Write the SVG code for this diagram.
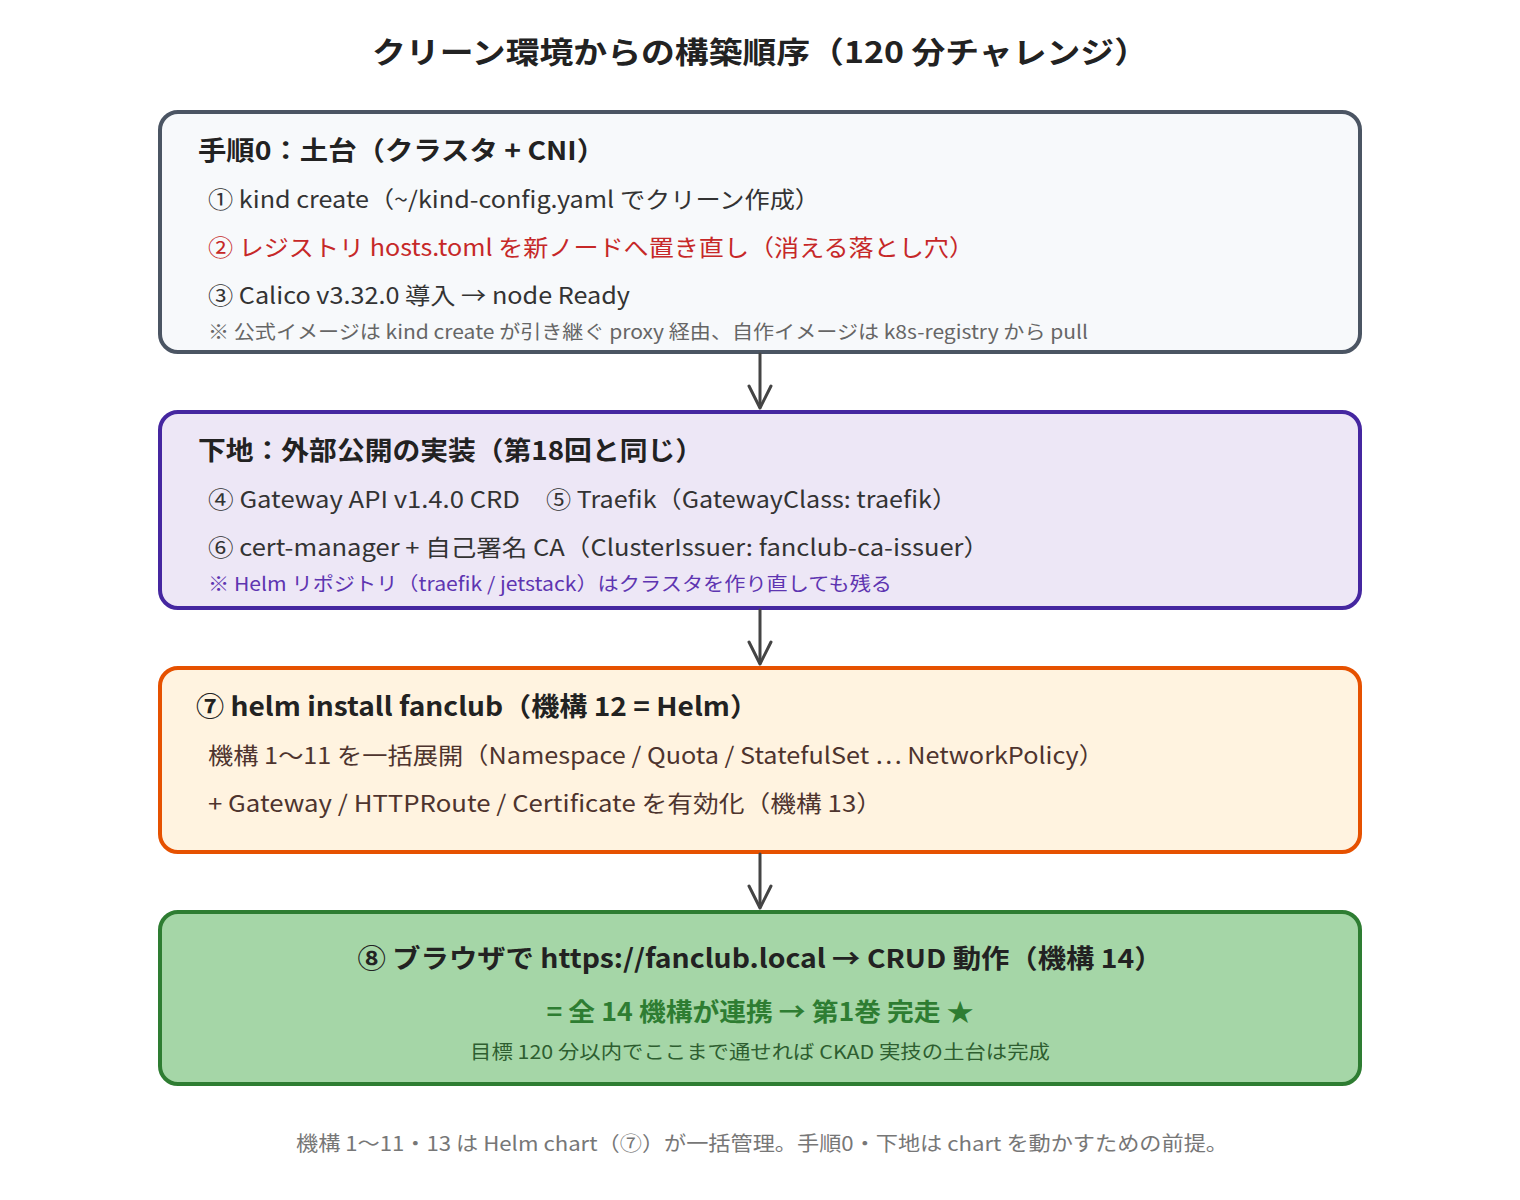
<svg xmlns="http://www.w3.org/2000/svg" width="1520" height="1200" viewBox="0 0 1520 1200">
<defs>
<style>
text{font-family:"Noto Sans CJK JP","Noto Sans",sans-serif;}
.title{font-size:30px;font-weight:700;fill:#222;}
.h{font-size:26px;font-weight:700;fill:#222;}
.l{font-size:23px;fill:#333;}
.n{font-size:19px;fill:#666;}
.box{stroke-width:4;}
.conn{stroke:#444;stroke-width:3;fill:none;stroke-linecap:round;stroke-linejoin:round;}
</style>
</defs>
<rect width="1520" height="1200" fill="#ffffff"/>
<text class="title" x="760" y="63" text-anchor="middle" textLength="776" lengthAdjust="spacingAndGlyphs">クリーン環境からの構築順序（120 分チャレンジ）</text>

<g id="step0">
<rect class="box" x="160" y="112" width="1200" height="240" rx="18" fill="#f7f9fb" stroke="#4b5563"/>
<text class="h" x="198" y="160" textLength="407" lengthAdjust="spacingAndGlyphs">手順0：土台（クラスタ + CNI）</text>
<text class="l" x="208" y="208" textLength="612" lengthAdjust="spacingAndGlyphs">① kind create（~/kind-config.yaml でクリーン作成）</text>
<text class="l" x="208" y="256" style="fill:#c62828" textLength="766" lengthAdjust="spacingAndGlyphs">② レジストリ hosts.toml を新ノードへ置き直し（消える落とし穴）</text>
<text class="l" x="208" y="304" textLength="422" lengthAdjust="spacingAndGlyphs">③ Calico v3.32.0 導入 → node Ready</text>
<text class="n" x="208" y="339" textLength="880" lengthAdjust="spacingAndGlyphs">※ 公式イメージは kind create が引き継ぐ proxy 経由、自作イメージは k8s-registry から pull</text>
</g>

<g id="base">
<rect class="box" x="160" y="412" width="1200" height="196" rx="18" fill="#ede7f6" stroke="#4527a0"/>
<text class="h" x="198" y="460" textLength="505" lengthAdjust="spacingAndGlyphs">下地：外部公開の実装（第18回と同じ）</text>
<text class="l" y="508"><tspan x="208" textLength="312" lengthAdjust="spacingAndGlyphs">④ Gateway API v1.4.0 CRD</tspan><tspan x="546" textLength="411" lengthAdjust="spacingAndGlyphs">⑤ Traefik（GatewayClass: traefik）</tspan></text>
<text class="l" x="208" y="556" textLength="781" lengthAdjust="spacingAndGlyphs">⑥ cert-manager + 自己署名 CA（ClusterIssuer: fanclub-ca-issuer）</text>
<text class="n" x="208" y="591" style="fill:#5e35b1" textLength="684" lengthAdjust="spacingAndGlyphs">※ Helm リポジトリ（traefik / jetstack）はクラスタを作り直しても残る</text>
</g>

<g id="helm">
<rect class="box" x="160" y="668" width="1200" height="184" rx="18" fill="#fff3e0" stroke="#e65100"/>
<text class="h" x="196" y="716" textLength="562" lengthAdjust="spacingAndGlyphs">⑦ helm install fanclub（機構 12 = Helm）</text>
<text class="l" x="208" y="764" style="fill:#4e342e" textLength="896" lengthAdjust="spacingAndGlyphs">機構 1〜11 を一括展開（Namespace / Quota / StatefulSet ⋯ NetworkPolicy）</text>
<text class="l" x="208" y="812" style="fill:#4e342e" textLength="674" lengthAdjust="spacingAndGlyphs">+ Gateway / HTTPRoute / Certificate を有効化（機構 13）</text>
</g>

<g id="browser">
<rect class="box" x="160" y="912" width="1200" height="172" rx="18" fill="#a5d6a7" stroke="#2e7d32"/>
<text class="h" x="760" y="968" text-anchor="middle" textLength="805" lengthAdjust="spacingAndGlyphs">⑧ ブラウザで https://fanclub.local → CRUD 動作（機構 14）</text>
<text class="h" x="760" y="1021" text-anchor="middle" style="fill:#2e7d32;font-size:25px" textLength="427" lengthAdjust="spacingAndGlyphs">= 全 14 機構が連携 → 第1巻 完走 ★</text>
<text class="n" x="760" y="1059" text-anchor="middle" style="fill:#2e5e30" textLength="580" lengthAdjust="spacingAndGlyphs">目標 120 分以内でここまで通せれば CKAD 実技の土台は完成</text>
</g>

<g id="connectors">
<line class="conn" x1="760" y1="354" x2="760" y2="407"/>
<polyline class="conn" points="749,386 760,408 771,386"/>
<line class="conn" x1="760" y1="610" x2="760" y2="663"/>
<polyline class="conn" points="749,642 760,664 771,642"/>
<line class="conn" x1="760" y1="854" x2="760" y2="907"/>
<polyline class="conn" points="749,886 760,908 771,886"/>
</g>

<text class="n" x="762" y="1151" text-anchor="middle" style="fill:#777;font-size:20px" textLength="932" lengthAdjust="spacingAndGlyphs">機構 1〜11・13 は Helm chart（⑦）が一括管理。手順0・下地は chart を動かすための前提。</text>
</svg>
